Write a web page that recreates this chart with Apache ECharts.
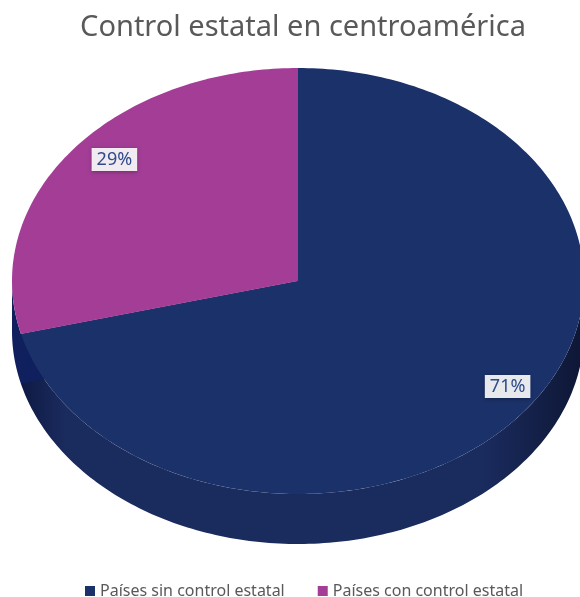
<!DOCTYPE html>
<html>
<head>
<meta charset="utf-8">
<script src="https://cdn.jsdelivr.net/npm/echarts@6/dist/echarts.min.js"></script>
<style>
  html, body { margin: 0; padding: 0; background: #fff; }
  #chart { width: 580px; height: 597px; }
</style>
</head>
<body>
<div id="chart"></div>
<script>
// datos del gráfico
var categories = ['Países sin control estatal', 'Países con control estatal'];
var shares = [71, 29];

// estilos (aparte de los datos)
var topColors = ['#1B3169', '#A33D96'];
var sideColors = ['#1A2B5E', '#101F5D'];
var cutColor = '#101F5D';

var total = shares.reduce(function (a, b) { return a + b; }, 0);

// geometría del "pastel 3D"
var geo = { cx: 298, cy: 281, rx: 286, ry: 213, depth: 50 };
// desplazamiento de etiquetas (efecto perspectiva)
var labelShift = [13, -8];

function pt(a, r, d) {
  return [geo.cx + geo.rx * r * Math.cos(a), geo.cy + geo.ry * r * Math.sin(a) + (d || 0)];
}

function arc(a0, a1, d) {
  var pts = [];
  var n = Math.max(2, Math.ceil(Math.abs(a1 - a0) / (Math.PI / 180)));
  for (var i = 0; i <= n; i++) {
    pts.push(pt(a0 + (a1 - a0) * i / n, 1, d));
  }
  return pts;
}

function renderSlice(params, api) {
  var idx = params.seriesIndex;
  var v = api.value(0);
  var before = 0;
  for (var i = 0; i < idx; i++) before += shares[i];
  var start = -Math.PI / 2 + 2 * Math.PI * before / total;
  var end = start + 2 * Math.PI * v / total;
  var children = [];

  // cara superior
  var top = [pt(0, 0)].concat(arc(start, end, 0));
  children.push({
    type: 'polygon', z2: 20,
    shape: { points: top },
    style: { fill: topColors[idx] }
  });

  // lateral visible (mitad delantera)
  var s0 = Math.max(start, 0), s1 = Math.min(end, Math.PI);
  if (s1 > s0) {
    var side = arc(s0, s1, 0).concat(arc(s1, s0, geo.depth));
    children.push({
      type: 'polygon', z2: 5,
      shape: { points: side },
      style: {
        fill: idx === 0 ? new echarts.graphic.LinearGradient(0, 0, 1, 0, [
          { offset: 0, color: '#0F1A44' },
          { offset: 0.08, color: '#1A2B5E' },
          { offset: 0.82, color: '#1A2B5E' },
          { offset: 1, color: '#0E1634' }
        ]) : sideColors[idx]
      }
    });
  }

  // caras de corte
  if (Math.cos(start) < -1e-6) {
    children.push({
      type: 'polygon', z2: 8,
      shape: { points: [pt(0, 0), pt(start, 1), pt(start, 1, geo.depth), pt(0, 0, geo.depth)] },
      style: { fill: cutColor }
    });
  }
  if (Math.cos(end) > 1e-6) {
    children.push({
      type: 'polygon', z2: 8,
      shape: { points: [pt(0, 0), pt(end, 1), pt(end, 1, geo.depth), pt(0, 0, geo.depth)] },
      style: { fill: cutColor }
    });
  }

  // etiqueta
  var mid = (start + end) / 2;
  var lp = pt(mid, 0.87);
  children.push({
    type: 'text', z2: 30,
    x: lp[0] + labelShift[0], y: lp[1] + labelShift[1],
    style: {
      text: Math.round(v / total * 100) + '%',
      align: 'center', verticalAlign: 'middle',
      fontSize: 18, fontFamily: 'Noto Sans',
      fill: '#2E4B8B',
      backgroundColor: 'rgba(255,255,255,0.9)',
      padding: [3, 5, 2, 5],
      shadowBlur: 4, shadowColor: 'rgba(0,0,0,0.35)', shadowOffsetY: 1
    }
  });

  return { type: 'group', children: children };
}

var chart = echarts.init(document.getElementById('chart'));

chart.setOption({
  animation: false,
  title: {
    text: 'Control estatal en centroamérica',
    left: 298, top: 8, textAlign: 'center',
    textStyle: { fontSize: 29, fontWeight: 'normal', color: '#595959', fontFamily: 'Noto Sans' }
  },
  legend: {
    data: categories,
    left: 80, top: 578,
    icon: 'rect', itemWidth: 10, itemHeight: 10, itemGap: 33,
    textStyle: { fontSize: 16, color: '#595959', fontFamily: 'Noto Sans' }
  },
  series: categories.map(function (name, i) {
    return {
      type: 'custom',
      name: name,
      coordinateSystem: 'none',
      itemStyle: { color: topColors[i] },
      renderItem: renderSlice,
      data: [[shares[i]]]
    };
  })
});
</script>
</body>
</html>
